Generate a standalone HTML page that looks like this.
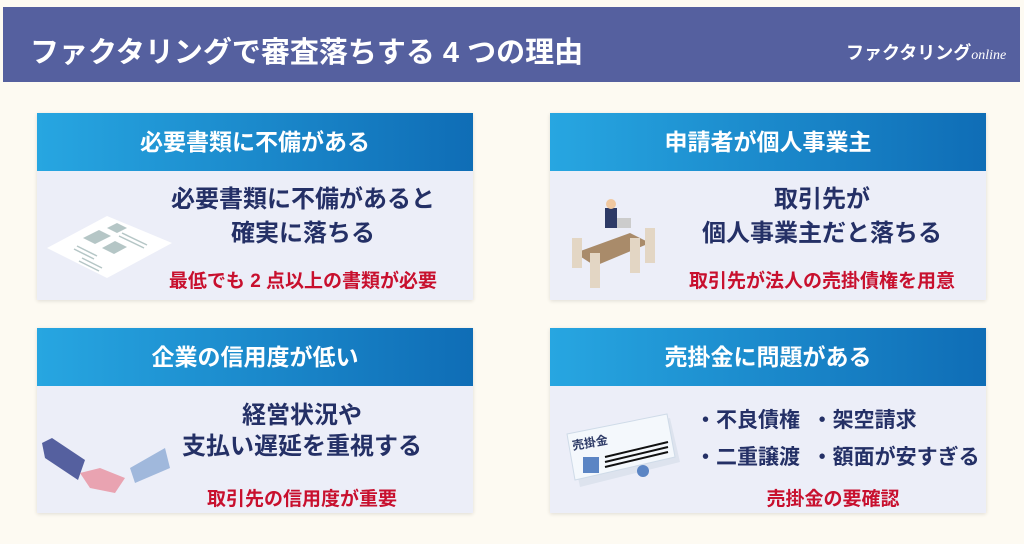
<!DOCTYPE html>
<html><head><meta charset="utf-8"><style>
*{margin:0;padding:0;box-sizing:border-box}
body{width:1024px;height:544px;background:#fdfaf2;position:relative;overflow:hidden;font-family:"Liberation Sans","Noto Sans CJK JP",sans-serif;font-weight:bold}
.top{position:absolute;left:3px;top:7px;width:1017px;height:75px;background:#55609f}
.title{position:absolute;left:27px;top:22px;color:#fff;font-size:29px;white-space:nowrap}
.logo{position:absolute;left:843px;top:32px;color:#fff;font-size:18px;white-space:nowrap}
.logo i{font-family:"Liberation Serif",serif;font-size:14px;font-weight:normal}
.card{position:absolute;width:436px;background:#eceef8;box-shadow:0 1px 4px rgba(0,0,0,.12)}
.hd{height:58px;background:linear-gradient(90deg,#27a6e1,#0f6db6);color:#fff;font-size:23px;text-align:center;line-height:58px}
.t{position:absolute;color:#243066;font-size:24px;text-align:center;line-height:34px;white-space:nowrap}
.r{position:absolute;color:#c8102e;font-size:19px;text-align:center;white-space:nowrap}
</style></head><body>
<div class="top"><div class="title">ファクタリングで審査落ちする 4 つの理由</div><div class="logo">ファクタリング<i>online</i></div></div>

<div class="card" style="left:37px;top:113px;height:187px">
<div class="hd">必要書類に不備がある</div>
<svg style="position:absolute;left:10px;top:95px" width="130" height="75"><polygon points="0,40 60,8 125,35 60,70" fill="#fff"/><g fill="#b5c6c6"><polygon points="36,30 52,22 64,28 48,36"/><polygon points="60,20 70,15 80,20 70,25"/><polygon points="55,40 68,33 80,39 67,46"/></g><g stroke="#b5c6c6" stroke-width="1.5"><line x1="75" y1="25" x2="100" y2="37"/><line x1="72" y1="28" x2="97" y2="40"/><line x1="30" y1="38" x2="50" y2="48"/><line x1="27" y1="41" x2="47" y2="51"/><line x1="35" y1="50" x2="55" y2="60"/><line x1="32" y1="53" x2="52" y2="63"/></g></svg>
<div class="t" style="left:106px;top:70px;width:320px">必要書類に不備があると<br>確実に落ちる</div>
<div class="r" style="left:106px;top:153px;width:320px">最低でも 2 点以上の書類が必要</div>
</div>

<div class="card" style="left:550px;top:113px;height:187px">
<div class="hd">申請者が個人事業主</div>
<svg style="position:absolute;left:20px;top:85px" width="90" height="95"><polygon points="5,55 60,35 80,45 25,68" fill="#a98b6a"/><rect x="35" y="10" width="12" height="20" fill="#2d3a66"/><circle cx="41" cy="6" r="5" fill="#f0c8a0"/><rect x="47" y="20" width="14" height="10" fill="#ccc"/><g fill="#e3d6c4"><rect x="2" y="40" width="10" height="30"/><rect x="20" y="55" width="10" height="35"/><rect x="60" y="40" width="10" height="35"/><rect x="75" y="30" width="10" height="35"/></g></svg>
<div class="t" style="left:112px;top:70px;width:320px">取引先が<br>個人事業主だと落ちる</div>
<div class="r" style="left:112px;top:153px;width:320px">取引先が法人の売掛債権を用意</div>
</div>

<div class="card" style="left:37px;top:328px;height:185px">
<div class="hd">企業の信用度が低い</div>
<svg style="position:absolute;left:3px;top:110px" width="135" height="60"><polygon points="2,5 12,0 45,22 38,42 5,20" fill="#55609f"/><polygon points="40,35 60,30 85,40 75,55 50,50" fill="#e9a3b1"/><polygon points="90,30 125,10 130,30 95,45" fill="#a0b8dc"/></svg>
<div class="t" style="left:115px;top:72px;width:300px;line-height:31px">経営状況や<br>支払い遅延を重視する</div>
<div class="r" style="left:115px;top:156px;width:300px">取引先の信用度が重要</div>
</div>

<div class="card" style="left:550px;top:328px;height:185px">
<div class="hd">売掛金に問題がある</div>
<svg style="position:absolute;left:15px;top:84px" width="135" height="80"><polygon points="5,28 105,6 115,50 15,75" fill="#dde3ee"/><polygon points="2,22 102,2 110,45 10,68" fill="#f4f8fc" stroke="#cfdbe8"/><text x="8" y="38" font-size="12" fill="#2d3a66" transform="rotate(-10 8 38)">売掛金</text><rect x="18" y="45" width="16" height="16" fill="#5b85c4"/><g stroke="#111" stroke-width="2"><line x1="40" y1="45" x2="103" y2="30"/><line x1="40" y1="50" x2="103" y2="35"/><line x1="40" y1="55" x2="103" y2="40"/></g><circle cx="78" cy="59" r="6" fill="#5b85c4"/></svg>
<div class="t" style="left:145px;top:74px;width:290px;text-align:left;line-height:37px;font-size:21px">・不良債権 &nbsp;・架空請求<br>・二重譲渡 &nbsp;・額面が安すぎる</div>
<div class="r" style="left:193px;top:156px;width:180px">売掛金の要確認</div>
</div>
</body></html>
